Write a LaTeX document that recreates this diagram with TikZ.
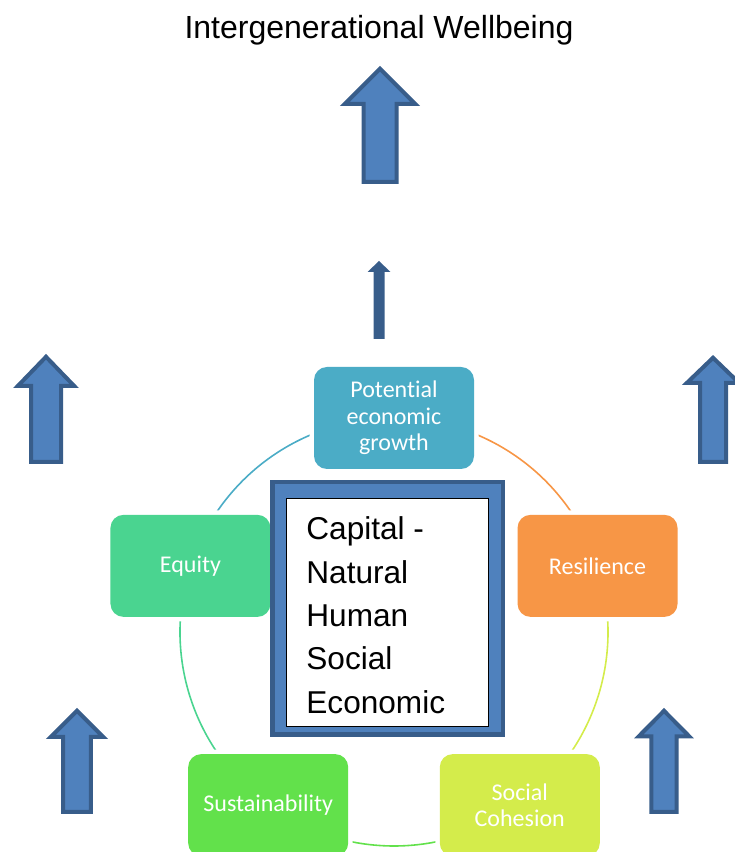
\documentclass[tikz,border=0pt]{standalone}
\usepackage{fontspec}
\setmainfont{Liberation Sans}
\newfontfamily\carlito[Ligatures={NoCommon}]{Carlito}
\usetikzlibrary{positioning, backgrounds}

\definecolor{arrowfill}{HTML}{4F81BD}
\definecolor{arrowdark}{HTML}{385D8A}
\definecolor{potcol}{HTML}{4BACC6}
\definecolor{eqcol}{HTML}{4AD490}
\definecolor{rescol}{HTML}{F79646}
\definecolor{suscol}{HTML}{62E14B}
\definecolor{soccol}{HTML}{D4EC4B}

% block arrow pointing up: centre x, bottom, neck, tip, head half width, shaft half width
\newcommand{\upblock}[6]{%
  \draw[blockarrow] ({#1-#6+2},{#2+2}) -- ({#1-#6+2},{#3+2}) -- ({#1-#5+4.8},{#3+2})
    -- (#1,{#4-2.8}) -- ({#1+#5-4.8},{#3+2}) -- ({#1+#6-2},{#3+2}) -- ({#1+#6-2},{#2+2}) -- cycle;}

\begin{document}
\begin{tikzpicture}[x=1pt, y=1pt]
        \tikzset{
          blockarrow/.style={draw=arrowdark, fill=arrowfill, line width=4pt, line join=miter},
          cyclebox/.style={rounded corners=13pt, minimum width=160pt, minimum height=102pt,
            inner sep=0pt, text=white, align=center, font=\carlito\fontsize{24}{26.5}\selectfont,
            preaction={draw=white, line width=9pt}},
          cyclelink/.style={draw=#1, line width=1.6pt},
          capframe/.style={draw=arrowdark, fill=arrowfill, line width=4.5pt, inner sep=0pt,
            minimum width=230.5pt, minimum height=252.5pt},
          capbox/.style={draw=black, fill=white, line width=0.8pt, inner sep=0pt,
            minimum width=202pt, minimum height=228pt},
          captext/.style={inner sep=0pt, align=left, font=\fontsize{31.6}{43.4}\selectfont}
        }
        \useasboundingbox (0,0) rectangle (735,852);

        \node[font=\fontsize{32}{38}\selectfont] (title) at (379,821.5) {Intergenerational Wellbeing};

        % arrows
        \upblock{380}{668}{746}{786}{40}{18.5}
        \upblock{46}{388}{464}{498}{33}{17}
        \upblock{713}{388}{467}{497}{31}{15}
        \upblock{77}{38}{113}{144}{31}{15.8}
        \upblock{664}{38}{113.7}{144}{30}{14.7}
        \fill[arrowdark] (373.5,513) -- (373.5,580) -- (367.5,580) -- (379,591)
          -- (390.5,580) -- (384.5,580) -- (384.5,513) -- cycle;

        % cycle
        \coordinate (hub) at (394,220);
        \node[cyclebox, fill=potcol] (pot) at ([shift={(90:214pt)}]hub) {Potential\\economic\\growth};
        \node[cyclebox, fill=eqcol] (eq) at ([shift={(162:214pt)}]hub) {Equity};
        \node[cyclebox, fill=suscol] (sus) at ([shift={(234:214pt)}]hub) {Sustainability};
        \node[cyclebox, fill=soccol] (soc) at ([shift={(306:214pt)}]hub) {Social\\Cohesion};
        \node[cyclebox, fill=rescol] (res) at ([shift={(18:214pt)}]hub) {Resilience};

        \begin{scope}[on background layer]
          \draw[cyclelink=potcol] (pot.center) arc[start angle=90, end angle=162, radius=214pt];
          \draw[cyclelink=eqcol] (eq.center) arc[start angle=162, end angle=234, radius=214pt];
          \draw[cyclelink=suscol] (sus.center) arc[start angle=234, end angle=306, radius=214pt];
          \draw[cyclelink=soccol] (soc.center) arc[start angle=306, end angle=378, radius=214pt];
          \draw[cyclelink=rescol] (res.center) arc[start angle=18, end angle=90, radius=214pt];
        \end{scope}

        % capital
        \node[capframe] (frame) at (387.5,243.5) {};
        \node[capbox] (capbox) at (387,240) {};
        \node[captext, below right=19pt and 20.6pt of capbox.north west] (captext)
          {Capital -\\Natural\\Human\\Social\\Economic};
\end{tikzpicture}
\end{document}
